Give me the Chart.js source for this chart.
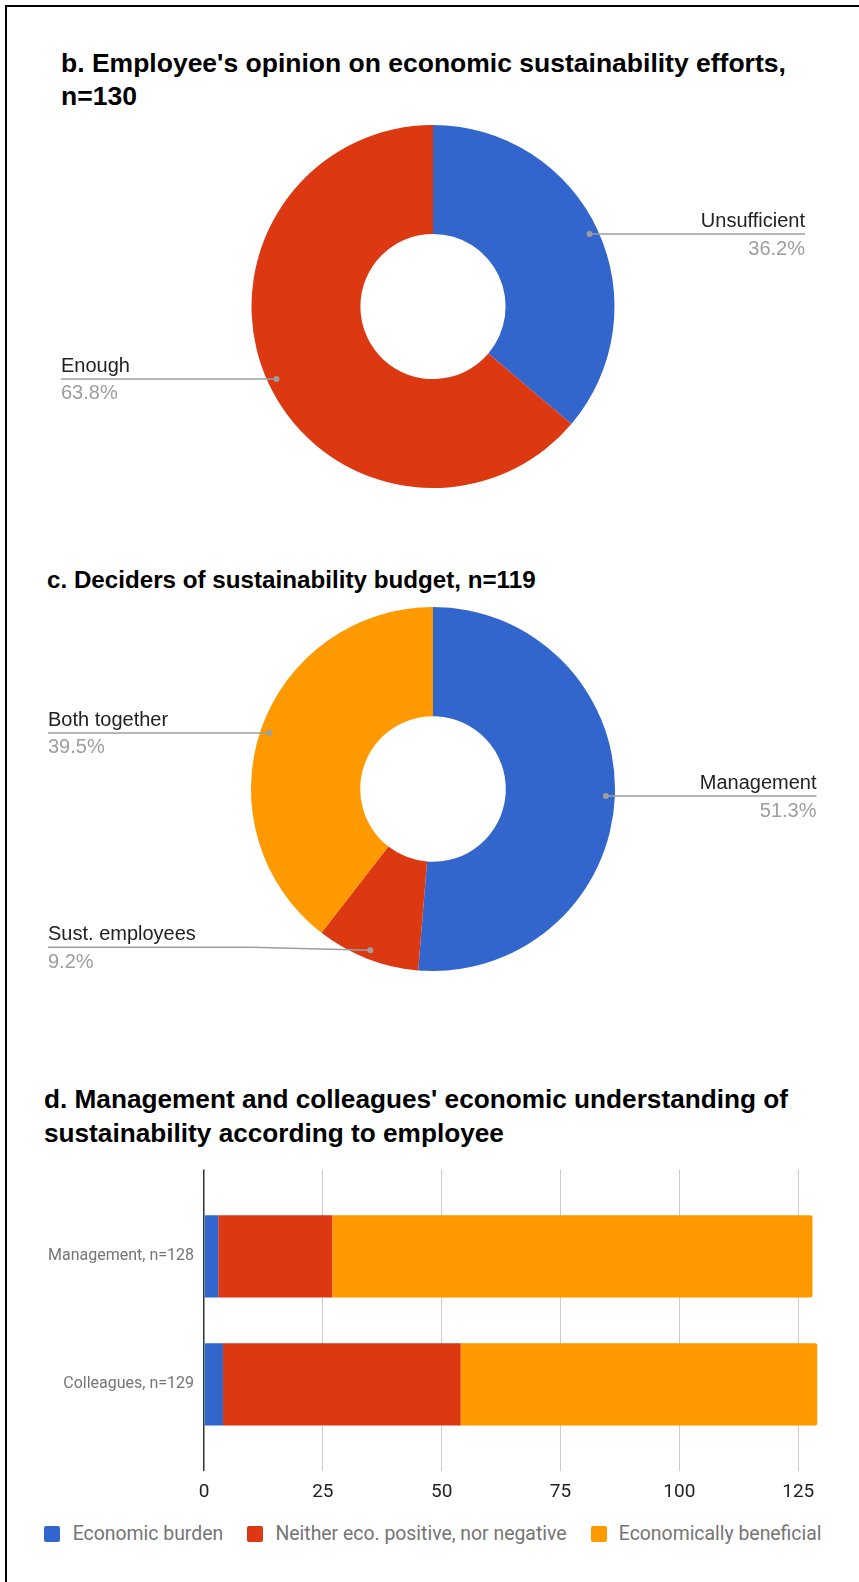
<!DOCTYPE html>
<html lang="en">
<head>
<meta charset="UTF-8">
<title>Economic sustainability survey</title>
<script src="https://cdn.jsdelivr.net/npm/chart.js"></script>
<style>
    body { margin: 0; background: #fff; }
    #page { position: relative; width: 859px; height: 1582px; overflow: hidden; background: #fff; }
    .frame { position: absolute; left: 5px; top: 5px; right: 0; bottom: 0; border-top: 2px solid #000; border-left: 2px solid #000; }
    .title { position: absolute; font-family: "Liberation Sans", Arial, sans-serif; font-weight: bold; color: #000; white-space: nowrap; }
    canvas { position: absolute; }
    #understandingLegend {
        position: absolute; left: 0; width: 866px; top: 1523px; height: 22px;
        display: flex; justify-content: center; align-items: center;
        font-family: Roboto, sans-serif; font-size: 19.4px; line-height: 22px; color: #757575; white-space: nowrap;
    }
    #understandingLegend .item { display: flex; align-items: center; margin: 0 12px; }
    #understandingLegend .swatch { width: 16px; height: 16px; border-radius: 2px; margin-right: 12.3px; }
</style>
</head>
<body>
<div id="page">
    <div class="frame"></div>

    <div class="title" style="left:61px; top:47px; font-size:26.5px; line-height:33px;">b. Employee's opinion on economic sustainability efforts,<br>n=130</div>
    <canvas id="effortChart" width="859" height="390" style="left:0; top:110px;"></canvas>

    <div class="title" style="left:47px; top:564px; font-size:24.2px; line-height:32px;">c. Deciders of sustainability budget, n=119</div>
    <canvas id="budgetChart" width="859" height="400" style="left:0; top:590px;"></canvas>

    <div class="title" style="left:44px; top:1082px; font-size:26.2px; line-height:34px;">d. Management and colleagues' economic understanding of<br>sustainability according to employee</div>
    <canvas id="understandingChart" width="815" height="353" style="left:44px; top:1150px;"></canvas>
    <div id="understandingLegend"></div>
</div>

<script>
    // b. opinion on the economic sustainability efforts (% of 130)
    const effortLabels = ['Unsufficient', 'Enough'];
    const effortShares = [36.2, 63.8];

    // c. who decides the sustainability budget (% of 119)
    const budgetLabels = ['Management', 'Sust. employees', 'Both together'];
    const budgetShares = [51.3, 9.2, 39.5];

    // d. economic understanding of sustainability (respondent counts)
    const groupLabels = ['Management, n=128', 'Colleagues, n=129'];
    const seriesNames = ['Economic burden', 'Neither eco. positive, nor negative', 'Economically beneficial'];
    const burdenCounts = [3, 4];
    const neutralCounts = [24, 50];
    const beneficialCounts = [101, 75];
    const countTicks = [0, 25, 50, 75, 100, 125];

    const palette = ['#3366cc', '#dc3912', '#ff9900'];

    // labels on a line out of each slice, name above and share below
    const leaderLines = {
        id: 'leaderLines',
        afterDatasetsDraw(chart, args, opts) {
            const ctx = chart.ctx;
            const values = chart.data.datasets[0].data;
            const total = values.reduce((s, v) => s + v, 0);

            chart.getDatasetMeta(0).data.forEach((arc, i) => {
                const mid = (arc.startAngle + arc.endAngle) / 2;
                const r = arc.outerRadius - 9;
                const px = arc.x + Math.cos(mid) * r;
                const py = arc.y + Math.sin(mid) * r;
                const onRight = px > arc.x;
                const end = onRight ? opts.right : opts.left;
                // label row nudged up a little where it sits low on the ring
                const ly = py - ((opts.lift && opts.lift[i]) || 0);
                const bend = onRight ? px + 120 : px - 120;

                ctx.save();
                ctx.strokeStyle = '#9e9e9e';
                ctx.lineWidth = 1.5;
                ctx.beginPath();
                ctx.moveTo(px, py);
                ctx.lineTo(bend, ly);
                ctx.lineTo(end, ly);
                ctx.stroke();

                ctx.fillStyle = '#9e9e9e';
                ctx.beginPath();
                ctx.arc(px, py, 3, 0, Math.PI * 2);
                ctx.fill();

                ctx.font = '20px "Liberation Sans", Arial, sans-serif';
                ctx.textAlign = onRight ? 'right' : 'left';
                ctx.textBaseline = 'alphabetic';
                ctx.fillStyle = '#222';
                ctx.fillText(chart.data.labels[i], end, ly - 7);
                ctx.fillStyle = '#9e9e9e';
                ctx.fillText((values[i] / total * 100).toFixed(1) + '%', end, ly + 20.5);
                ctx.restore();
            });
        }
    };

    function donut(id, labels, values, colors, padding, sides) {
        new Chart(document.getElementById(id), {
            type: 'doughnut',
            data: {
                labels: labels,
                datasets: [{
                    data: values,
                    backgroundColor: colors,
                    borderWidth: 0
                }]
            },
            options: {
                responsive: false,
                animation: false,
                cutout: '40%',
                layout: { padding: padding },
                plugins: {
                    legend: { display: false },
                    tooltip: { enabled: false },
                    leaderLines: sides
                }
            },
            plugins: [leaderLines]
        });
    }

    donut('effortChart', effortLabels, effortShares, [palette[0], palette[1]],
        { left: 251.5, right: 244.5, top: 15, bottom: 12 }, { left: 61, right: 805 });

    donut('budgetChart', budgetLabels, budgetShares, palette,
        { left: 251, right: 244, top: 17, bottom: 19 }, { left: 48, right: 816.5, lift: [0, 3, 0] });

    const toPoints = arr => arr.map((v, i) => ({ x: v, y: i }));

    const barChart = new Chart(document.getElementById('understandingChart'), {
        type: 'bar',
        data: {
            datasets: [
                { label: seriesNames[0], data: toPoints(burdenCounts), backgroundColor: palette[0] },
                { label: seriesNames[1], data: toPoints(neutralCounts), backgroundColor: palette[1] },
                { label: seriesNames[2], data: toPoints(beneficialCounts), backgroundColor: palette[2] }
            ]
        },
        options: {
            indexAxis: 'y',
            responsive: false,
            animation: false,
            layout: { padding: { top: 1, right: 37, bottom: 0, left: 0 } },
            datasets: {
                bar: { barPercentage: 0.643, categoryPercentage: 1, borderRadius: 2 }
            },
            scales: {
                x: {
                    stacked: true,
                    min: 0,
                    max: 130,
                    afterBuildTicks: scale => { scale.ticks = countTicks.map(v => ({ value: v })); },
                    afterFit: scale => { scale.height = 32; },
                    grid: {
                        color: c => (c.tick && c.tick.value === 0) ? '#333' : '#cccccc',
                        lineWidth: c => (c.tick && c.tick.value === 0) ? 1.5 : 1,
                        drawTicks: false
                    },
                    border: { display: false },
                    ticks: { padding: 10, color: '#222', font: { family: 'Roboto', size: 19 } }
                },
                y: {
                    type: 'linear',
                    offset: false,
                    stacked: true,
                    reverse: true,
                    min: -0.678,
                    max: 1.678,
                    afterBuildTicks: scale => { scale.ticks = groupLabels.map((_, i) => ({ value: i })); },
                    afterFit: scale => { scale.width = 160; },
                    grid: { display: false, drawTicks: false },
                    border: { display: false },
                    ticks: {
                        padding: 10,
                        color: '#757575',
                        font: { family: 'Roboto', size: 16 },
                        callback: v => groupLabels[v]
                    }
                }
            },
            plugins: {
                legend: { display: false },
                tooltip: { enabled: false }
            }
        }
    });

    // legend row under the bars, built from the chart's own legend items
    const legendEl = document.getElementById('understandingLegend');
    Chart.defaults.plugins.legend.labels.generateLabels(barChart).forEach(item => {
        const row = document.createElement('span');
        row.className = 'item';
        const swatch = document.createElement('span');
        swatch.className = 'swatch';
        swatch.style.background = item.fillStyle;
        row.appendChild(swatch);
        row.appendChild(document.createTextNode(item.text));
        legendEl.appendChild(row);
    });
</script>
</body>
</html>
